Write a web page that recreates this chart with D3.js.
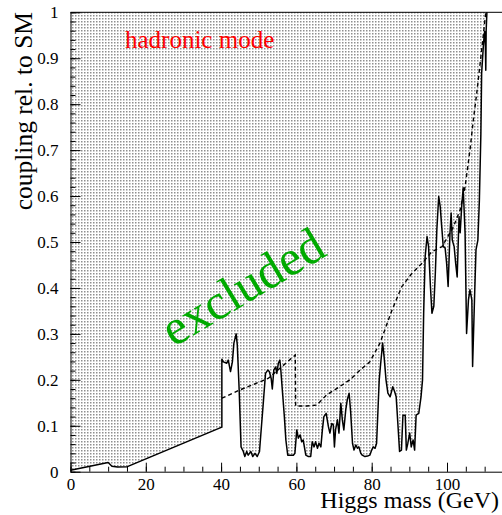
<!DOCTYPE html>
<html>
<head>
<meta charset="utf-8">
<script src="https://cdn.jsdelivr.net/npm/d3@7"></script>
<style>
  body { margin: 0; background: #fff; }
  svg { display: block; }
</style>
</head>
<body>
<div class="chartHolder"></div>
<script>
const mass = [0, 10.0, 11.0, 12.5, 15.1, 40.2, 40.2, 40.6, 41.5, 41.9, 42.5, 43.0, 43.4, 44.0, 44.3, 44.8,
  45.3, 45.9, 46.3, 46.8, 47.2, 47.9, 48.4, 49.0, 49.6, 50.2, 50.5, 51.2, 51.8, 52.4, 52.8, 53.3, 53.6,
  54.0, 54.5, 54.8, 55.2, 55.6, 55.8, 56.4, 56.8, 57.2, 57.7, 58.3, 59.2, 59.6, 60.1, 60.5, 61.0, 61.4,
  61.8, 62.5, 63.2, 63.8, 64.2, 64.7, 65.1, 65.6, 66.0, 66.5, 66.9, 67.3, 67.9, 68.5, 68.9, 69.4, 69.8,
  70.1, 70.4, 70.9, 71.3, 71.8, 72.2, 72.6, 73.1, 73.5, 74.0, 74.4, 74.9, 75.3, 75.8, 76.2, 76.6, 77.1,
  77.5, 78.2, 78.9, 79.5, 80.0, 80.4, 80.9, 81.3, 81.7, 82.0, 82.3, 82.9, 83.3, 83.8, 84.3, 84.9, 85.6,
  86.1, 86.5, 87.0, 87.4, 87.9, 88.3, 88.9, 89.2, 89.6, 90.1, 90.5, 91.0, 91.4, 91.8, 92.5, 93.1, 93.5,
  93.8, 94.2, 94.7, 95.1, 95.6, 96.0, 96.5, 96.9, 97.3, 97.8, 98.2, 98.6, 99.0, 99.5, 99.9, 100.3, 100.8,
  101.1, 101.4, 101.9, 102.3, 102.7, 103.2, 103.5, 103.9, 104.3, 104.8, 105.2, 105.7, 106.1, 106.6, 106.8,
  107.3, 107.7, 108.2, 108.6, 109.0, 109.2, 109.7, 110.0, 110.2, 110.3, 110.4, 110.6]
const limit = [0.003, 0.02, 0.012, 0.01, 0.011, 0.097, 0.245, 0.239, 0.236, 0.243, 0.218, 0.239, 0.28, 0.30, 0.276, 0.178,
  0.054, 0.044, 0.033, 0.044, 0.036, 0.044, 0.033, 0.04, 0.033, 0.044, 0.076, 0.149, 0.214, 0.221, 0.218, 0.203, 0.18,
  0.221, 0.228, 0.214, 0.236, 0.243, 0.228, 0.163, 0.12, 0.069, 0.036, 0.036, 0.036, 0.04, 0.091, 0.073, 0.08, 0.065,
  0.069, 0.036, 0.033, 0.033, 0.065, 0.054, 0.065, 0.051, 0.062, 0.054, 0.091, 0.12, 0.127, 0.098, 0.084, 0.105, 0.102,
  0.054, 0.091, 0.113, 0.084, 0.149, 0.113, 0.091, 0.134, 0.156, 0.171, 0.131, 0.062, 0.047, 0.058, 0.051, 0.054, 0.04,
  0.036, 0.033, 0.034, 0.036, 0.047, 0.054, 0.051, 0.062, 0.141, 0.2, 0.228, 0.28, 0.25, 0.2, 0.171, 0.163, 0.185,
  0.174, 0.163, 0.098, 0.044, 0.047, 0.123, 0.123, 0.047, 0.062, 0.084, 0.054, 0.069, 0.047, 0.123, 0.127, 0.163, 0.2,
  0.345, 0.468, 0.512, 0.49, 0.403, 0.345, 0.36, 0.432, 0.526, 0.599, 0.577, 0.533, 0.49, 0.487, 0.454, 0.403, 0.52,
  0.563, 0.504, 0.49, 0.454, 0.424, 0.555, 0.52, 0.577, 0.618, 0.52, 0.301, 0.374, 0.396, 0.374, 0.229,
  0.374, 0.483, 0.504, 0.591, 0.737, 0.867, 0.933, 0.958, 0.925, 0.874, 0.96, 1.0]

// expected limit (dashed line)
const expMass = [40.2, 45.0, 52.5, 59.7, 59.8, 62.7, 65.4, 68.0, 70.7, 74.2, 76.9, 79.5, 82.2, 85.4, 88.0,
  90.7, 93.4, 96.0, 98.7, 101.7, 103.5, 104.8, 106.1, 107.0, 107.9, 108.8, 109.6, 110.3]
const expLimit = [0.16, 0.178, 0.203, 0.254, 0.143, 0.143, 0.145, 0.167, 0.181, 0.2, 0.221, 0.239, 0.28, 0.352, 0.403,
  0.432, 0.454, 0.479, 0.49, 0.533, 0.57, 0.62, 0.70, 0.766, 0.824, 0.889, 0.947, 1.0]

const xTicks = [0, 20, 40, 60, 80, 100]
const xMinor = d3.range(0, 121, 5)
const yTicks = [0, 0.1, 0.2, 0.3, 0.4, 0.5, 0.6, 0.7, 0.8, 0.9, 1]
const yTickLabels = ['0', '0.1', '0.2', '0.3', '0.4', '0.5', '0.6', '0.7', '0.8', '0.9', '1']
const yMinor = d3.range(0, 51).map(i => i / 50)

const width = 502
const height = 515
const serif = 'Liberation Serif'

var xScale = d3.scaleLinear().domain([0, 120]).range([70.5, 522.3])
var yScale = d3.scaleLinear().domain([0, 1]).range([471.7, 12.3])

var svg = d3.select('.chartHolder').append('svg')
  .attr('width', width)
  .attr('height', height)

// dotted fill for the excluded region
var pat = svg.append('defs').append('pattern')
  .attr('id', 'dots')
  .attr('patternUnits', 'userSpaceOnUse')
  .attr('width', 3)
  .attr('height', 3)
pat.append('rect').attr('width', 3).attr('height', 3).attr('fill', '#fff')
pat.append('rect').attr('width', 1.5).attr('height', 1.5).attr('fill', '#8f8f8f')

var obs = mass.map((m, i) => [m, limit[i]])
var exp = expMass.map((m, i) => [m, expLimit[i]])

var area = d3.area()
  .x(d => xScale(d[0]))
  .y0(yScale(1))
  .y1(d => yScale(d[1]))

svg.append('path')
  .datum(obs)
  .attr('d', area)
  .attr('fill', 'url(#dots)')

var line = d3.line()
  .x(d => xScale(d[0]))
  .y(d => yScale(d[1]))

svg.append('path')
  .datum(exp)
  .attr('d', line)
  .attr('fill', 'none')
  .attr('stroke', '#000')
  .attr('stroke-width', 1.4)
  .attr('stroke-dasharray', '4,3')

svg.append('path')
  .datum(obs)
  .attr('d', line)
  .attr('fill', 'none')
  .attr('stroke', '#000')
  .attr('stroke-width', 1.5)
  .attr('stroke-linejoin', 'round')

// axes, ticks inside the frame
svg.append('g')
  .attr('transform', `translate(0,${yScale(0)})`)
  .call(d3.axisBottom(xScale).tickValues(xMinor).tickSize(-5).tickSizeOuter(0).tickFormat(''))
  .call(g => g.select('.domain').remove())
svg.append('g')
  .attr('class', 'axis')
  .attr('transform', `translate(0,${yScale(0)})`)
  .call(d3.axisBottom(xScale).tickValues(xTicks).tickSize(-9).tickSizeOuter(0).tickPadding(6))

svg.append('g')
  .attr('transform', `translate(${xScale(0)},0)`)
  .call(d3.axisLeft(yScale).tickValues(yMinor).tickSize(-5).tickSizeOuter(0).tickFormat(''))
  .call(g => g.select('.domain').remove())
svg.append('g')
  .attr('class', 'axis')
  .attr('transform', `translate(${xScale(0)},0)`)
  .call(d3.axisLeft(yScale).tickValues(yTicks).tickSize(-10).tickSizeOuter(0).tickPadding(12)
    .tickFormat((d, i) => yTickLabels[i]))

svg.selectAll('.axis')
  .attr('font-family', serif)
  .attr('font-size', 17)
svg.selectAll('.domain').attr('stroke', '#000')
svg.selectAll('.tick line').attr('stroke', '#000')
svg.selectAll('.tick text')
  .attr('fill', '#000')
  .attr('font-family', serif)

// top of the frame
svg.append('line')
  .attr('x1', xScale(0)).attr('x2', xScale(120))
  .attr('y1', yScale(1)).attr('y2', yScale(1))
  .attr('stroke', '#000')

// titles and labels
svg.append('text')
  .attr('x', 499)
  .attr('y', 508)
  .attr('text-anchor', 'end')
  .attr('font-family', serif)
  .attr('font-size', 24)
  .text('Higgs mass (GeV)')

svg.append('text')
  .attr('transform', 'translate(32,12) rotate(-90)')
  .attr('text-anchor', 'end')
  .attr('font-family', serif)
  .attr('font-size', 25.5)
  .text('coupling rel. to SM')

svg.append('text')
  .attr('x', 125)
  .attr('y', 48)
  .attr('fill', '#ff0000')
  .attr('font-family', serif)
  .attr('font-size', 25)
  .text('hadronic mode')

svg.append('text')
  .attr('transform', 'translate(242,286) rotate(-31)')
  .attr('text-anchor', 'middle')
  .attr('dy', '0.35em')
  .attr('fill', '#00aa00')
  .attr('font-family', serif)
  .attr('font-size', 50)
  .text('excluded')
</script>
</body>
</html>
